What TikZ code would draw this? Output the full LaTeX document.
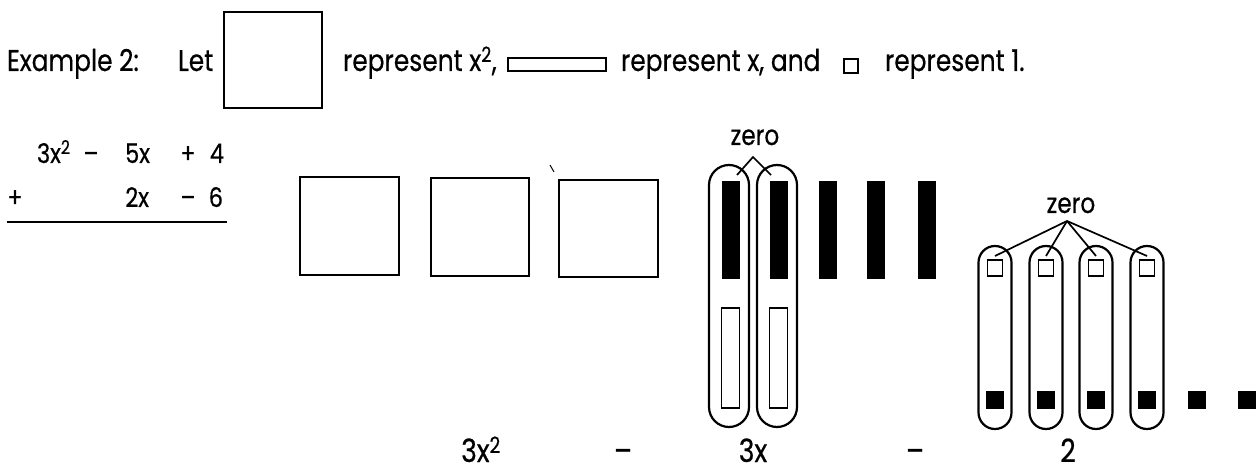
\documentclass[tikz,border=0pt]{standalone}
\usepackage{fontspec}
\setmainfont{Poppins}[FakeStretch=0.83,FakeBold=0.5]
\usetikzlibrary{calc}
\begin{document}
\begin{tikzpicture}[x=1pt,y=-1pt,
  txt/.style={anchor=base west,inner sep=0pt,outer sep=0pt,font=\fontsize{30}{34}\selectfont},
  ptxt/.style={anchor=base west,inner sep=0pt,outer sep=0pt,font=\fontsize{27}{30}\selectfont},
  ctxt/.style={anchor=base,inner sep=0pt,outer sep=0pt,font=\fontsize{27}{30}\selectfont},
  etxt/.style={anchor=base east,inner sep=0pt,outer sep=0pt,font=\fontsize{27}{30}\selectfont},
  ztxt/.style={anchor=base,inner sep=0pt,outer sep=0pt,font=\fontsize{28}{30}\selectfont},
  btxt/.style={anchor=base,inner sep=0pt,outer sep=0pt,font=\fontsize{32}{34}\selectfont},
  tile/.style={draw,line width=2.6pt,inner sep=0pt,outer sep=0pt},
  capsule/.style={draw,line width=2.2pt,inner sep=0pt,outer sep=0pt},
  negtile/.style={fill=black,inner sep=0pt,outer sep=0pt},
  postile/.style={draw,line width=1.8pt,inner sep=0pt,outer sep=0pt},
  conn/.style={line width=1.7pt}]
\useasboundingbox (0,0) rectangle (1256,470);

% ---- legend line ----
\node[txt] (ex) at (7,71) {Example 2:};
\node[txt] (let) at (178,71) {Let};
\node[tile,minimum width=98pt,minimum height=96pt] (legsq) at (273,60) {};
\node[txt] (r1) at (343,71) {represent x\textsuperscript{2},};
\node[tile,line width=2.2pt,minimum width=98pt,minimum height=13pt] (legrect) at (557,64.5) {};
\node[txt] (r2) at (621,71) {represent x, and};
\node[tile,line width=2pt,minimum width=14pt,minimum height=14pt] (legunit) at (851,66) {};
\node[txt] (r3) at (885,71) {represent 1.};

% ---- vertical addition ----
\node[ptxt] (p1a) at (37,163) {3x\textsuperscript{2}};
\node[ctxt] (p1b) at (91,163) {–};
\node[etxt] (p1c) at (150,163) {5x};
\node[ctxt] (p1d) at (188,163) {+};
\node[etxt] (p1e) at (224,163) {4};
\node[ctxt] (p2a) at (15,207) {+};
\node[etxt] (p2b) at (149,207) {2x};
\node[ctxt] (p2c) at (188,207) {–};
\node[etxt] (p2d) at (223,207) {6};
\draw[line width=2.2pt] (7,222) -- (227,222);

% ---- three x^2 tiles ----
\node[tile,minimum width=99pt,minimum height=98pt] (s1) at (349.5,226) {};
\node[tile,minimum width=98pt,minimum height=98pt] (s2) at (480,227) {};
\node[tile,minimum width=99pt,minimum height=97pt] (s3) at (608.5,228.5) {};
\draw[line width=1pt] (550,165) -- (554,172);

% ---- x tiles ----
\node[capsule,rounded corners=20pt,minimum width=40pt,minimum height=262pt] (c1) at (729,296) {};
\node[capsule,rounded corners=20pt,minimum width=40pt,minimum height=262pt] (c2) at (777,296) {};
\node[negtile,minimum width=18pt,minimum height=98pt] (b1) at (731,230) {};
\node[negtile,minimum width=18pt,minimum height=98pt] (b2) at (779,230) {};
\node[negtile,minimum width=18pt,minimum height=98pt] (b3) at (827.5,230) {};
\node[negtile,minimum width=18pt,minimum height=98pt] (b4) at (876,230) {};
\node[negtile,minimum width=18pt,minimum height=98pt] (b5) at (926.5,230) {};
\node[postile,minimum width=18pt,minimum height=100pt] (w1) at (730.5,358) {};
\node[postile,minimum width=18pt,minimum height=100pt] (w2) at (778.5,358) {};

\node[ztxt] (z1) at (755,145) {zero};
\coordinate (a1) at (753,157);
\coordinate (e11) at ([xshift=6pt,yshift=6pt]b1.north);
\coordinate (e12) at ([xshift=-8pt,yshift=6pt]b2.north);
\draw[conn] (e11) -- (a1) -- (e12);

% ---- unit tiles ----
\foreach \i/\cx in {1/995,2/1046,3/1096,4/1147}{
  \node[capsule,rounded corners=16.5pt,minimum width=33pt,minimum height=183pt] (u\i) at (\cx,337.5) {};
  \node[postile,line width=1.6pt,minimum width=15pt,minimum height=16pt] (uw\i) at (\cx,268) {};
  \node[negtile,minimum width=18pt,minimum height=18pt] (ub\i) at (\cx,400) {};
}
\node[negtile,minimum width=18pt,minimum height=18pt] (ub5) at (1196.5,400) {};
\node[negtile,minimum width=18pt,minimum height=18pt] (ub6) at (1247,400) {};

\node[ztxt] (z2) at (1071,213) {zero};
\coordinate (a2) at (1067,221);
\foreach \i in {1,2,3,4}{
  \draw[conn] (a2) -- ([yshift=4pt]uw\i.north);
}

% ---- result ----
\node[btxt] (res1) at (481,462) {3x\textsuperscript{2}};
\node[btxt] (op1) at (623,462) {–};
\node[btxt] (res2) at (753,462) {3x};
\node[btxt] (op2) at (915,462) {–};
\node[btxt] (res3) at (1068,462) {2};
\end{tikzpicture}
\end{document}
